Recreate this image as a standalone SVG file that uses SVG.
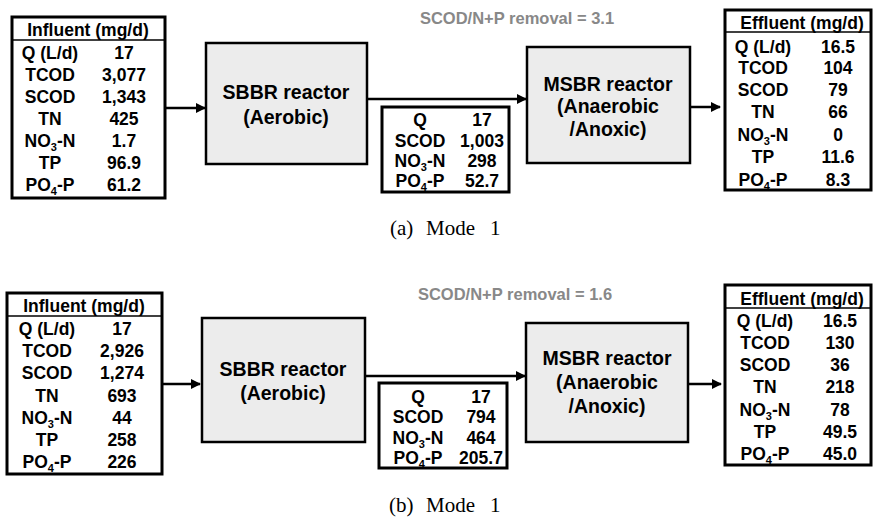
<svg xmlns="http://www.w3.org/2000/svg" width="873" height="518" viewBox="0 0 873 518">
<defs>
<marker id="ah" viewBox="0 0 10 10" refX="9" refY="5" markerWidth="4" markerHeight="4" orient="auto" markerUnits="strokeWidth"><path d="M0,0 L10,5 L0,10 z" fill="#000"/></marker>
<style>
.tb{fill:#fff;stroke:#000;stroke-width:3}
.rx{fill:#ececec;stroke:#000;stroke-width:2.5}
.hl{stroke:#000;stroke-width:1.5}
.t{font-family:"Liberation Sans",Arial,sans-serif;font-weight:bold;font-size:17.5px;fill:#000;text-anchor:middle}
.r{font-family:"Liberation Sans",Arial,sans-serif;font-weight:bold;font-size:19.5px;fill:#000;text-anchor:middle}
.g{font-family:"Liberation Sans",Arial,sans-serif;font-weight:bold;font-size:16.5px;fill:#888;text-anchor:middle}
.c{font-family:"Liberation Serif","Times New Roman",serif;font-size:21px;fill:#000}
.sub{font-size:11px}
.con{stroke:#000;stroke-width:2.5;fill:none;marker-end:url(#ah)}
</style>
</defs>

<!-- Panel (a) -->
<g id="influent-a">
<rect class="tb" x="12" y="17" width="153" height="181"/>
<line class="hl" x1="12" y1="40" x2="165" y2="40"/>
<text class="t" x="88" y="36">Influent (mg/d)</text>
<text class="t" x="50" y="59">Q (L/d)</text><text class="t" x="124" y="59">17</text>
<text class="t" x="50" y="81">TCOD</text><text class="t" x="124" y="81">3,077</text>
<text class="t" x="50" y="103">SCOD</text><text class="t" x="124" y="103">1,343</text>
<text class="t" x="50" y="125">TN</text><text class="t" x="124" y="125">425</text>
<text class="t" x="50" y="147">NO<tspan class="sub" dy="4">3</tspan><tspan dy="-4">-N</tspan></text><text class="t" x="124" y="147">1.7</text>
<text class="t" x="50" y="169">TP</text><text class="t" x="124" y="169">96.9</text>
<text class="t" x="50" y="191">PO<tspan class="sub" dy="4">4</tspan><tspan dy="-4">-P</tspan></text><text class="t" x="124" y="191">61.2</text>
</g>
<g id="sbbr-a">
<rect class="rx" x="206" y="43" width="161" height="121"/>
<text class="r" x="286" y="99">SBBR reactor</text>
<text class="r" x="286" y="124">(Aerobic)</text>
</g>
<g id="mid-a">
<rect class="tb" x="382" y="107" width="127" height="85"/>
<text class="t" x="420" y="126">Q</text><text class="t" x="482" y="126">17</text>
<text class="t" x="420" y="147">SCOD</text><text class="t" x="482" y="147">1,003</text>
<text class="t" x="420" y="167">NO<tspan class="sub" dy="4">3</tspan><tspan dy="-4">-N</tspan></text><text class="t" x="482" y="167">298</text>
<text class="t" x="420" y="187">PO<tspan class="sub" dy="4">4</tspan><tspan dy="-4">-P</tspan></text><text class="t" x="482" y="187">52.7</text>
</g>
<g id="ratio-a"><text class="g" x="517" y="24">SCOD/N+P removal = 3.1</text></g>
<g id="msbr-a">
<rect class="rx" x="527" y="47" width="163" height="116"/>
<text class="r" x="608" y="91">MSBR reactor</text>
<text class="r" x="608" y="113">(Anaerobic</text>
<text class="r" x="608" y="136">/Anoxic)</text>
</g>
<g id="effluent-a">
<rect class="tb" x="725" y="10" width="146" height="180"/>
<line class="hl" x1="725" y1="32" x2="871" y2="32"/>
<text class="t" x="802" y="29">Effluent (mg/d)</text>
<text class="t" x="763" y="53">Q (L/d)</text><text class="t" x="838" y="53">16.5</text>
<text class="t" x="763" y="74">TCOD</text><text class="t" x="838" y="74">104</text>
<text class="t" x="763" y="96">SCOD</text><text class="t" x="838" y="96">79</text>
<text class="t" x="763" y="118">TN</text><text class="t" x="838" y="118">66</text>
<text class="t" x="763" y="141">NO<tspan class="sub" dy="4">3</tspan><tspan dy="-4">-N</tspan></text><text class="t" x="838" y="141">0</text>
<text class="t" x="763" y="163">TP</text><text class="t" x="838" y="163">11.6</text>
<text class="t" x="763" y="186">PO<tspan class="sub" dy="4">4</tspan><tspan dy="-4">-P</tspan></text><text class="t" x="838" y="186">8.3</text>
</g>
<g id="caption-a">
<text class="c" x="390" y="235">(a)</text><text class="c" x="426" y="235">Mode</text><text class="c" x="490" y="235">1</text>
</g>

<!-- Panel (b) -->
<g id="influent-b">
<rect class="tb" x="7" y="293" width="155" height="181"/>
<line class="hl" x1="7" y1="316" x2="162" y2="316"/>
<text class="t" x="84" y="312">Influent (mg/d)</text>
<text class="t" x="47" y="335">Q (L/d)</text><text class="t" x="122" y="335">17</text>
<text class="t" x="47" y="357">TCOD</text><text class="t" x="122" y="357">2,926</text>
<text class="t" x="47" y="379">SCOD</text><text class="t" x="122" y="379">1,274</text>
<text class="t" x="47" y="402">TN</text><text class="t" x="122" y="402">693</text>
<text class="t" x="47" y="424">NO<tspan class="sub" dy="4">3</tspan><tspan dy="-4">-N</tspan></text><text class="t" x="122" y="424">44</text>
<text class="t" x="47" y="446">TP</text><text class="t" x="122" y="446">258</text>
<text class="t" x="47" y="468">PO<tspan class="sub" dy="4">4</tspan><tspan dy="-4">-P</tspan></text><text class="t" x="122" y="468">226</text>
</g>
<g id="sbbr-b">
<rect class="rx" x="202" y="318" width="163" height="124"/>
<text class="r" x="283" y="376">SBBR reactor</text>
<text class="r" x="283" y="400">(Aerobic)</text>
</g>
<g id="mid-b">
<rect class="tb" x="379" y="383" width="128" height="85"/>
<text class="t" x="418" y="403">Q</text><text class="t" x="481" y="403">17</text>
<text class="t" x="418" y="423">SCOD</text><text class="t" x="481" y="423">794</text>
<text class="t" x="418" y="444">NO<tspan class="sub" dy="4">3</tspan><tspan dy="-4">-N</tspan></text><text class="t" x="481" y="444">464</text>
<text class="t" x="418" y="464">PO<tspan class="sub" dy="4">4</tspan><tspan dy="-4">-P</tspan></text><text class="t" x="481" y="464">205.7</text>
</g>
<g id="ratio-b"><text class="g" x="515" y="300">SCOD/N+P removal = 1.6</text></g>
<g id="msbr-b">
<rect class="rx" x="526" y="323" width="162" height="119"/>
<text class="r" x="607" y="365">MSBR reactor</text>
<text class="r" x="607" y="389">(Anaerobic</text>
<text class="r" x="607" y="413">/Anoxic)</text>
</g>
<g id="effluent-b">
<rect class="tb" x="725" y="285" width="146" height="180"/>
<line class="hl" x1="725" y1="308" x2="871" y2="308"/>
<text class="t" x="802" y="305">Effluent (mg/d)</text>
<text class="t" x="765" y="327">Q (L/d)</text><text class="t" x="840" y="327">16.5</text>
<text class="t" x="765" y="349">TCOD</text><text class="t" x="840" y="349">130</text>
<text class="t" x="765" y="371">SCOD</text><text class="t" x="840" y="371">36</text>
<text class="t" x="765" y="393">TN</text><text class="t" x="840" y="393">218</text>
<text class="t" x="765" y="416">NO<tspan class="sub" dy="4">3</tspan><tspan dy="-4">-N</tspan></text><text class="t" x="840" y="416">78</text>
<text class="t" x="765" y="438">TP</text><text class="t" x="840" y="438">49.5</text>
<text class="t" x="765" y="460">PO<tspan class="sub" dy="4">4</tspan><tspan dy="-4">-P</tspan></text><text class="t" x="840" y="460">45.0</text>
</g>
<g id="caption-b">
<text class="c" x="389" y="512">(b)</text><text class="c" x="426" y="512">Mode</text><text class="c" x="490" y="512">1</text>
</g>

<g id="connectors">
<line class="con" x1="165" y1="108" x2="205" y2="108"/>
<line class="con" x1="367" y1="99" x2="526" y2="99"/>
<line class="con" x1="690" y1="107" x2="720" y2="107"/>
<line class="con" x1="162" y1="384" x2="200" y2="384"/>
<line class="con" x1="365" y1="376" x2="525" y2="376"/>
<line class="con" x1="688" y1="384" x2="721" y2="384"/>
</g>
</svg>
